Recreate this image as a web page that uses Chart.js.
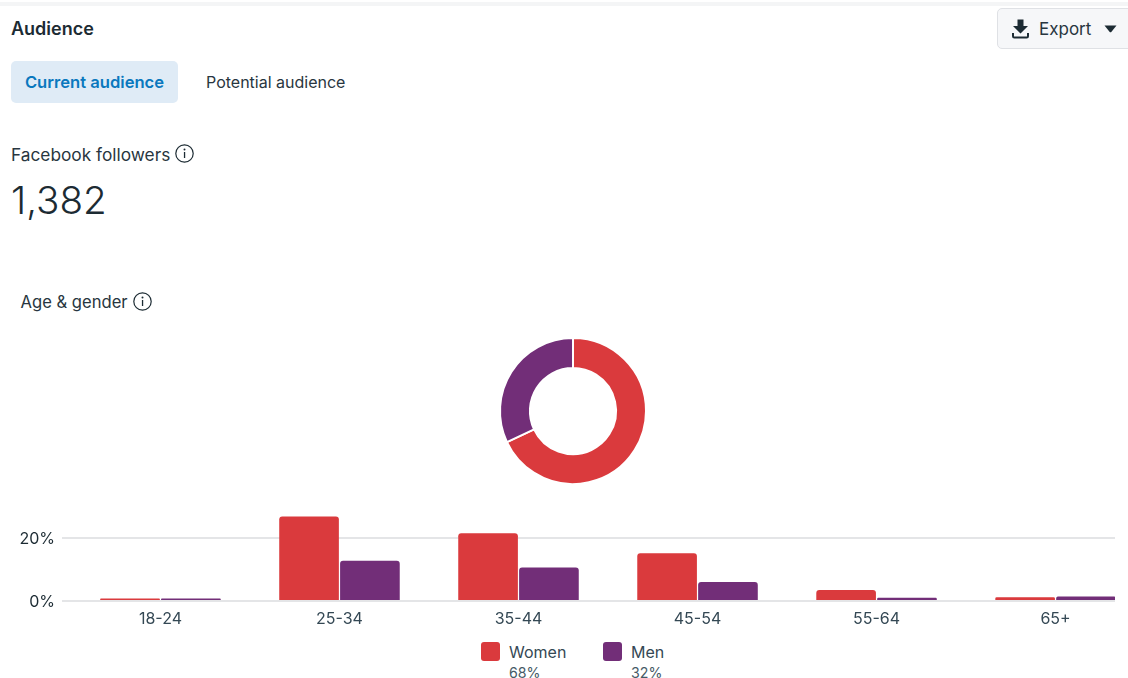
<!DOCTYPE html>
<html>
<head>
<meta charset="utf-8">
<title>Audience</title>
<script src="https://cdn.jsdelivr.net/npm/chart.js@4"></script>
<style>
  html, body { margin: 0; padding: 0; background: #fff; }
  body { width: 1128px; height: 678px; overflow: hidden; position: relative; font-family: Inter, "Noto Sans", sans-serif; color: #1c2b33; }
  .abs { position: absolute; white-space: nowrap; }
  #topline { left: 0; top: 2px; width: 1128px; height: 4px; background: #f4f5f6; }
  #title { left: 11px; top: 18px; font-size: 18px; line-height: 22px; font-weight: 600; }
  #tabOn { left: 11px; top: 61px; width: 167px; height: 42px; line-height: 42px; background: #dfebf6; border-radius: 5px; text-align: center; color: #0a78be; font-size: 16.6px; font-weight: 600; }
  #tabOff { left: 206px; top: 61px; line-height: 42px; font-size: 16px; color: #283640; }
  #followers { left: 11px; top: 144px; font-size: 17.3px; line-height: 22px; color: #283640; }
  #count { left: 11px; top: 178px; font-size: 38.6px; line-height: 44px; font-weight: 300; color: #1c2b33; }
  #ageGender { left: 20.5px; top: 291px; font-size: 16.6px; line-height: 22px; color: #283640; }
  .info { position: absolute; }
  #exportBtn { left: 997px; top: 8px; width: 140px; height: 39px; background: #f6f7f9; border: 1px solid #dfe1e5; border-radius: 5px; }
  #exportTxt { left: 1039px; top: 18px; font-size: 17px; line-height: 22px; color: #283640; }
  #donut { position: absolute; left: 492.5px; top: 331px; }
  #bars { position: absolute; left: 0; top: 493px; }
  .swatch { position: absolute; top: 642px; width: 19px; height: 19px; border-radius: 3px; }
  .legName { top: 642px; font-size: 16px; line-height: 20px; color: #344854; }
  .legPct { top: 665px; font-size: 14.2px; line-height: 16px; color: #465a66; }
</style>
</head>
<body>
<div class="abs" id="topline"></div>
<div class="abs" id="title">Audience</div>
<div class="abs" id="tabOn">Current audience</div>
<div class="abs" id="tabOff">Potential audience</div>
<div class="abs" id="followers">Facebook followers</div>
<svg class="info" style="left:175px;top:144px" width="19" height="19" viewBox="0 0 19 19"><circle cx="9.5" cy="9.5" r="8.7" fill="none" stroke="#1c2b33" stroke-width="1.2"/><circle cx="9.5" cy="5.6" r="1" fill="#1c2b33"/><rect x="8.9" y="8" width="1.3" height="6" fill="#1c2b33"/></svg>
<div class="abs" id="count">1,382</div>
<div class="abs" id="ageGender">Age &amp; gender</div>
<svg class="info" style="left:133px;top:292px" width="19" height="19" viewBox="0 0 19 19"><circle cx="9.5" cy="9.5" r="8.7" fill="none" stroke="#1c2b33" stroke-width="1.2"/><circle cx="9.5" cy="5.6" r="1" fill="#1c2b33"/><rect x="8.9" y="8" width="1.3" height="6" fill="#1c2b33"/></svg>
<div class="abs" id="exportBtn"></div>
<svg class="info" style="left:1012px;top:19px" width="17" height="20" viewBox="0 0 17 20"><path d="M5.5 0.5h6v6.5h4.5l-7.5 7.5l-7.5-7.5h4.5z" fill="#1c2b33"/><path d="M1 14v3.2q0 1.3 1.3 1.3h12.4q1.3 0 1.3-1.3V14" fill="none" stroke="#1c2b33" stroke-width="2"/></svg>
<div class="abs" id="exportTxt">Export</div>
<svg class="info" style="left:1104px;top:25px" width="13" height="8" viewBox="0 0 13 8"><path d="M0.5 0.5h12l-5 6.2q-1 1-2 0z" fill="#1c2b33"/></svg>

<canvas id="donut" width="160" height="160"></canvas>
<canvas id="bars" width="1128" height="142"></canvas>
<div id="legend"></div>

<script>
const categories = ['18-24', '25-34', '35-44', '45-54', '55-64', '65+'];
const women = [0.8, 26.7, 21.4, 15.1, 3.5, 1.2];
const men = [0.8, 12.7, 10.6, 6.0, 1.0, 1.4];
const yTicks = [0, 20];
const genderNames = ['Women', 'Men'];
const genderShare = [68, 32];
const genderColors = ['#da3a3d', '#722e78'];

new Chart(document.getElementById('donut'), {
    type: 'doughnut',
    data: {
        labels: genderNames,
        datasets: [{
            data: genderShare,
            backgroundColor: genderColors,
            borderColor: '#ffffff',
            borderWidth: 2
        }]
    },
    options: {
        responsive: false,
        animation: false,
        cutout: '59%',
        layout: { padding: 6 },
        plugins: { legend: { display: false }, tooltip: { enabled: false } }
    }
});

function toPoints(values) {
    return values.map((v, i) => ({ x: i, y: v }));
}

new Chart(document.getElementById('bars'), {
    type: 'bar',
    data: {
        datasets: [
            { label: genderNames[0], data: toPoints(women), backgroundColor: genderColors[0] },
            { label: genderNames[1], data: toPoints(men), backgroundColor: genderColors[1] }
        ]
    },
    options: {
        responsive: false,
        animation: false,
        categoryPercentage: 0.68,
        barPercentage: 0.98,
        layout: { padding: { top: 5, right: 13, left: 0, bottom: 0 } },
        elements: { bar: { borderRadius: { topLeft: 3, topRight: 3 }, borderSkipped: 'bottom' } },
        scales: {
            x: {
                type: 'linear',
                offset: false,
                // category spacing is wider than the plot, the last group sits on the right edge
                min: -0.55,
                max: 5.332,
                afterBuildTicks: (axis) => { axis.ticks = categories.map((c, i) => ({ value: i })); },
                afterFit: (axis) => { axis.height = 34; },
                grid: { display: false },
                border: { display: false },
                ticks: {
                    callback: (value) => categories[value],
                    autoSkip: false,
                    maxRotation: 0,
                    padding: 1,
                    color: '#344854',
                    font: { family: 'Inter', size: 16 }
                }
            },
            y: {
                min: 0,
                max: 28.9,
                afterBuildTicks: (axis) => { axis.ticks = yTicks.map(v => ({ value: v })); },
                afterFit: (axis) => { axis.width = 62; },
                grid: { color: '#e4e5e7', lineWidth: 2, drawTicks: false },
                border: { display: false },
                ticks: {
                    callback: (value) => value + '%',
                    padding: 7,
                    labelOffset: 1,
                    color: '#1c2b33',
                    font: { family: 'Inter', size: 16 }
                }
            }
        },
        plugins: { legend: { display: false }, tooltip: { enabled: false } }
    }
});

// legend under the bars, with each share below its name
const legendLeft = [481, 603];
const legend = document.getElementById('legend');
genderNames.forEach((name, i) => {
    const left = legendLeft[i];
    legend.insertAdjacentHTML('beforeend',
        `<div class="swatch" style="left:${left}px;background:${genderColors[i]}"></div>` +
        `<div class="abs legName" style="left:${left + 28}px">${name}</div>` +
        `<div class="abs legPct" style="left:${left + 28}px">${genderShare[i]}%</div>`);
});
</script>
</body>
</html>
